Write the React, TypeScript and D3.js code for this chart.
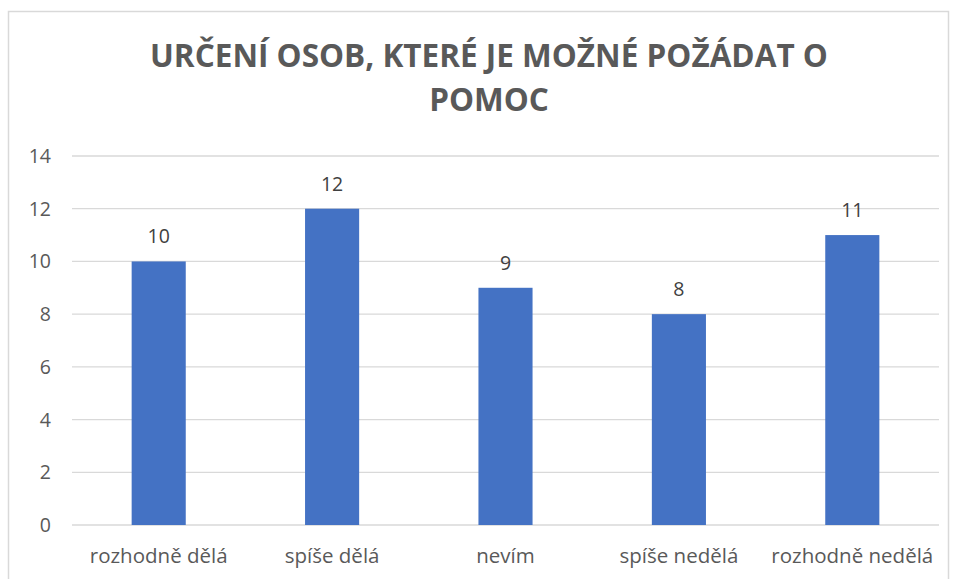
import React from "react";
import * as d3 from "d3";

const categories = ["rozhodně dělá", "spíše dělá", "nevím", "spíše nedělá", "rozhodně nedělá"];
const values = [10, 12, 9, 8, 11];
const yTicks = [0, 2, 4, 6, 8, 10, 12, 14];
const titleLines = ["URČENÍ OSOB, KTERÉ JE MOŽNÉ POŽÁDAT O", "POMOC"];

export default function App() {
  const W = 956, H = 579;
  const left = 72, right = 939, top = 156, bottom = 525;
  const x = d3.scaleBand<string>().domain(categories).range([left, right]).paddingInner(0.688).paddingOuter(0.344);
  const y = d3.scaleLinear().domain([0, 14]).range([bottom, top]);
  const font = "'Open Sans', sans-serif";
  const gray = "#595959";
  return (
    <svg width={W} height={H} style={{ position: "absolute", left: 0, top: 0 }}>
      <rect x={0} y={0} width={W} height={H} fill="#fff" />
      <rect x={8.5} y={11.5} width={940} height={600} fill="#fff" stroke="#d9d9d9" strokeWidth={1.5} />
      {titleLines.map((t, i) => (
        <text key={i} x={489} y={67 + i * 44} textAnchor="middle" fontFamily={font} fontWeight={700} fontSize={31.5} fill={gray}>
          {t}
        </text>
      ))}
      {yTicks.map((t) => (
        <g key={t}>
          <line x1={left} x2={right} y1={y(t)} y2={y(t)} stroke="#d9d9d9" strokeWidth={1.3} />
          <text x={51} y={y(t)} dy="0.36em" textAnchor="end" fontFamily={font} fontSize={19.5} fill={gray}>
            {t}
          </text>
        </g>
      ))}
      {categories.map((c, i) => (
        <g key={c}>
          <rect x={x(c)} y={y(values[i])} width={x.bandwidth()} height={bottom - y(values[i])} fill="#4472C4" />
          <text x={x(c)! + x.bandwidth() / 2} y={y(values[i]) - 18} textAnchor="middle" fontFamily={font} fontSize={19.5} fill="#404040">
            {values[i]}
          </text>
          <text x={x(c)! + x.bandwidth() / 2} y={563} textAnchor="middle" fontFamily={font} fontSize={20.5} fill={gray}>
            {c}
          </text>
        </g>
      ))}
    </svg>
  );
}
